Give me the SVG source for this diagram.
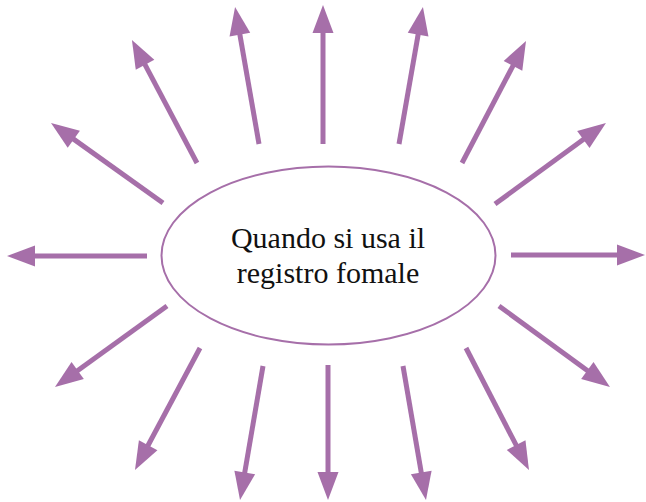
<svg xmlns="http://www.w3.org/2000/svg" width="646" height="502" viewBox="0 0 646 502">
<style>
.arr{stroke:#A66FA9;stroke-width:5;fill:none;marker-end:url(#head)}
.lbl{font-family:"Liberation Serif","Times New Roman",serif;font-size:30px;fill:#111;text-anchor:middle}
</style>
<defs>
<marker id="head" markerUnits="userSpaceOnUse" markerWidth="28" markerHeight="21" refX="8" refY="10.5" orient="auto" overflow="visible">
<path d="M0,0 L28,10.5 L0,21 Z" fill="#A66FA9"/>
</marker>
</defs>
<rect width="646" height="502" fill="#fff"/>
<g id="connectors">
<line class="arr" x1="147" y1="256" x2="27" y2="256"/>
<line class="arr" x1="163" y1="203" x2="67.3" y2="134.6"/>
<line class="arr" x1="197" y1="163" x2="141.3" y2="57.7"/>
<line class="arr" x1="259" y1="144" x2="238.5" y2="26.7"/>
<line class="arr" x1="323" y1="144" x2="323" y2="25"/>
<line class="arr" x1="399" y1="144" x2="419.5" y2="26.7"/>
<line class="arr" x1="462" y1="163" x2="516.7" y2="58.7"/>
<line class="arr" x1="495" y1="204" x2="589.8" y2="134.8"/>
<line class="arr" x1="511" y1="255" x2="625" y2="255"/>
<line class="arr" x1="499" y1="306" x2="593.8" y2="375.2"/>
<line class="arr" x1="466" y1="348" x2="519.8" y2="452.2"/>
<line class="arr" x1="403" y1="366" x2="422.6" y2="480.3"/>
<line class="arr" x1="328" y1="365" x2="328" y2="480"/>
<line class="arr" x1="263" y1="366" x2="243.4" y2="480.3"/>
<line class="arr" x1="200" y1="348" x2="144.4" y2="452.3"/>
<line class="arr" x1="167" y1="306" x2="71.2" y2="375.3"/>
</g>
<g id="center">
<ellipse cx="328.5" cy="255.5" rx="167" ry="89" fill="#fff" stroke="#A66FA9" stroke-width="2"/>
<text class="lbl" x="328" y="248">Quando si usa il</text>
<text class="lbl" x="328" y="283">registro fomale</text>
</g>
</svg>
